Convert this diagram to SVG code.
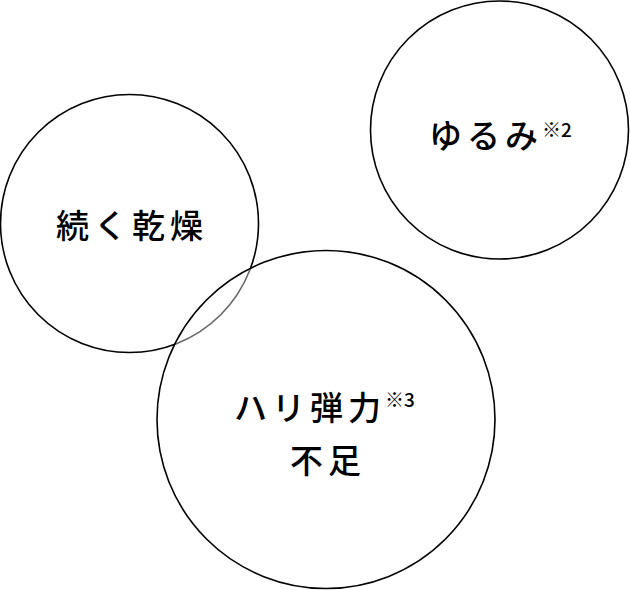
<svg xmlns="http://www.w3.org/2000/svg" width="630" height="590" viewBox="0 0 630 590">
<style>
.c{stroke:#000;stroke-width:1.6}
.t{font-family:"Noto Sans CJK JP","Noto Sans",sans-serif;font-size:33px;font-weight:500;fill:#000;letter-spacing:5px}
.s{font-family:"Noto Sans CJK JP","Noto Sans",sans-serif;font-size:19px;font-weight:500;fill:#000;letter-spacing:0}
</style>
<rect width="630" height="590" fill="#fff"/>
<g id="node-dryness">
<circle class="c" cx="129.5" cy="223.5" r="129" fill="#fff"/>
<text class="t" x="56" y="238">続く乾燥</text>
</g>
<g id="node-sagging">
<circle class="c" cx="499.5" cy="130" r="129" fill="#fff"/>
<text class="t" x="429" y="148">ゆるみ<tspan class="s" dx="-1" dy="-11">※2</tspan></text>
</g>
<g id="node-elasticity">
<circle class="c" cx="326" cy="419.5" r="169" fill="#fff" fill-opacity="0.4"/>
<text class="t" x="234" y="420">ハリ弾力<tspan class="s" dx="-1" dy="-13">※3</tspan></text>
<text class="t" x="290" y="473">不足</text>
</g>
<g id="connectors"/>
</svg>
